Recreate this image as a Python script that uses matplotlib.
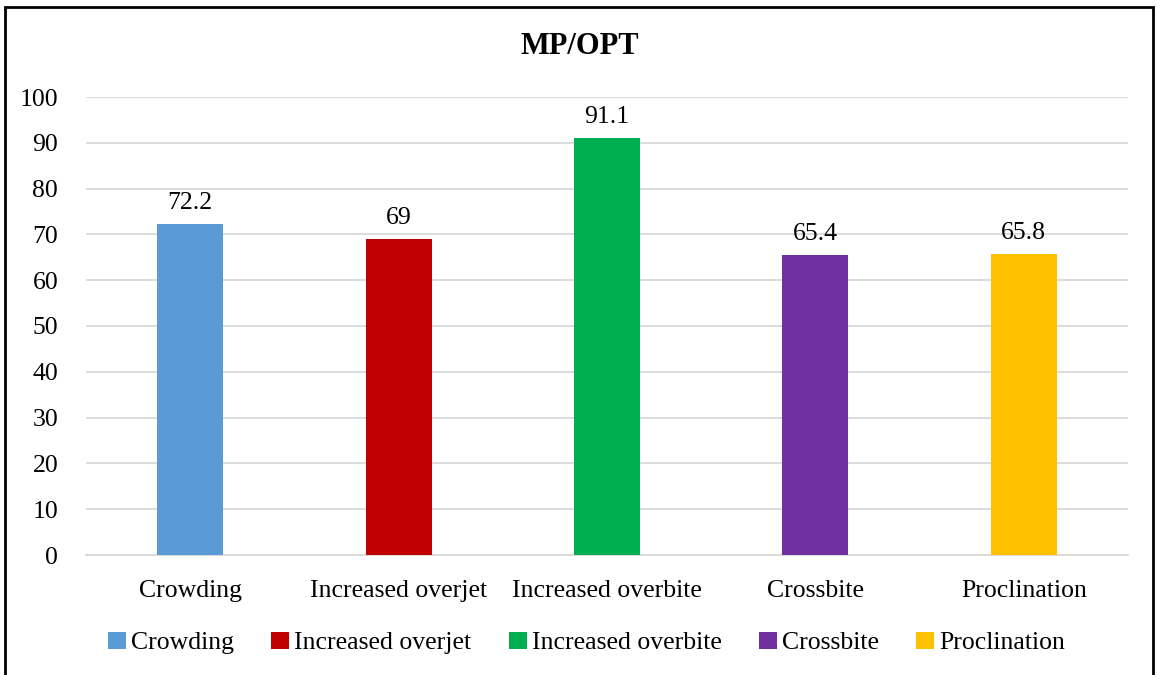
import matplotlib.pyplot as plt
from matplotlib.patches import Rectangle

categories = ["Crowding", "Increased overjet", "Increased overbite", "Crossbite", "Proclination"]
values = [72.2, 69, 91.1, 65.4, 65.8]
value_labels = ["72.2", "69", "91.1", "65.4", "65.8"]
colors = ["#5B9BD5", "#C00000", "#00B050", "#7030A0", "#FFC000"]
yticks = [0, 10, 20, 30, 40, 50, 60, 70, 80, 90, 100]

plt.rcParams['font.family'] = ['Liberation Serif', 'DejaVu Serif']

fig = plt.figure(figsize=(11.57, 6.75), dpi=100)
ax = fig.add_axes([86 / 1157, 1 - 555 / 675, (1128 - 86) / 1157, (555 - 97) / 675])

x = range(len(categories))
bars = ax.bar(x, values, width=0.317, color=colors, label=categories, zorder=3)

for i, b in enumerate(bars):
    ax.text(b.get_x() + b.get_width() / 2, values[i] + 2.2, value_labels[i],
            ha="center", va="bottom", fontsize=18.5)

ax.set_xlim(-0.5, len(categories) - 0.5)
ax.set_ylim(0, 100)
ax.set_yticks(yticks)
ax.set_xticks(list(x))
ax.set_xticklabels(categories)
ax.tick_params(axis="both", length=0, labelsize=18.5)
ax.tick_params(axis="x", pad=18)
ax.tick_params(axis="y", pad=20)
ax.grid(axis="y", color="#D9D9D9", linewidth=1.3, zorder=0)
for side in ["top", "right", "left"]:
    ax.spines[side].set_visible(False)
ax.spines["bottom"].set_color("#D9D9D9")
ax.spines["bottom"].set_linewidth(1.3)

fig.text(580 / 1157, 1 - 47 / 675, "MP/OPT", ha="center", va="center",
         fontsize=22, fontweight="bold")

fig.legend(handles=bars, labels=categories, loc="center",
           bbox_to_anchor=(0.5 + 8 / 1157, 1 - 643 / 675),
           ncol=5, frameon=False, fontsize=18.5, handlelength=0.7, handleheight=0.7,
           handletextpad=0.2, columnspacing=1.45)

# outer frame
fig.patches.append(Rectangle((5 / 1157, -0.05), (1153 - 5) / 1157, 1.05 - 7 / 675,
                             transform=fig.transFigure, fill=False,
                             edgecolor="black", linewidth=2))

fig.savefig("out.png", dpi=100)
